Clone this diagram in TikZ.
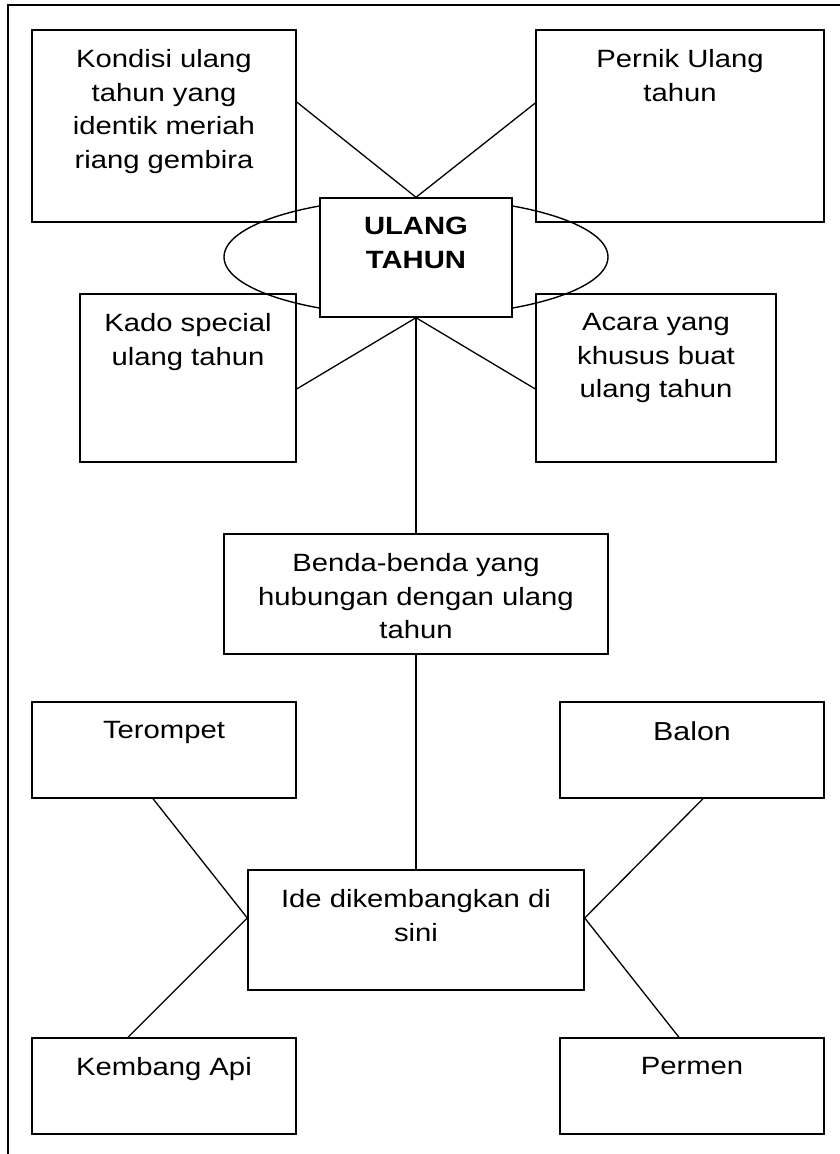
\documentclass[tikz,border=0pt]{standalone}
\usepackage{fontspec}
\setmainfont[FakeStretch=1.17]{Liberation Sans}
\usepackage{tikz}
\usetikzlibrary{shapes,positioning}

\begin{document}
\begin{tikzpicture}[x=1pt, y=-1pt]
  \tikzstyle{kotak} = [draw, rectangle, line width=1.4pt, inner sep=0pt]
  \tikzstyle{teks} = [anchor=north, align=center, inner sep=0pt, yshift=-20pt, font=\fontsize{25pt}{33.5pt}\selectfont]
  \tikzstyle{garis} = [line width=1.3pt]

  \useasboundingbox (0,0) rectangle (840,1154);
  % bingkai
  \draw[garis] (840,5) -- (8,5) -- (8,1154);

  \node[ellipse, draw, line width=1.4pt, minimum width=384pt, minimum height=118pt] (oval) at (416,257) {};

  \node[kotak, minimum width=264pt, minimum height=192pt, label={[teks]north:{Kondisi ulang\\tahun yang\\identik meriah\\riang gembira}}] (kondisi) at (164,126) {};
  \node[kotak, minimum width=288pt, minimum height=192pt, label={[teks]north:{Pernik Ulang\\tahun}}] (pernik) at (680,126) {};
  \node[kotak, fill=white, minimum width=192pt, minimum height=119pt, label={[teks, font=\fontsize{25pt}{33.5pt}\selectfont\bfseries]north:{ULANG\\TAHUN}}] (ulang) at (416,257.5) {};
  \node[kotak, minimum width=216pt, minimum height=168pt, label={[teks]north:{Kado special\\ulang tahun}}] (kado) at (188,378) {};
  \node[kotak, minimum width=240pt, minimum height=168pt, label={[teks]north:{Acara yang\\khusus buat\\ulang tahun}}] (acara) at (656,378) {};
  \node[kotak, minimum width=384pt, minimum height=120pt, label={[teks]north:{Benda-benda yang\\hubungan dengan ulang\\tahun}}] (benda) at (416,594) {};

  \node[kotak, minimum width=264pt, minimum height=96pt, label={[teks]north:{Terompet}}] (terompet) at (164,750) {};
  \node[kotak, minimum width=264pt, minimum height=96pt, label={[teks, font=\fontsize{26pt}{33.5pt}\selectfont]north:{Balon}}] (balon) at (692,750) {};
  \node[kotak, minimum width=336pt, minimum height=120pt, label={[teks]north:{Ide dikembangkan di\\sini}}] (ide) at (416,930) {};
  \node[kotak, minimum width=264pt, minimum height=96pt, label={[teks]north:{Kembang Api}}] (kembang) at (164,1086) {};
  \node[kotak, minimum width=264pt, minimum height=96pt, label={[teks]north:{Permen}}] (permen) at (692,1086) {};

  \coordinate (ideW) at ([yshift=12pt]ide.west);
  \coordinate (ideE) at ([yshift=12pt]ide.east);

  \draw[garis] ([yshift=24pt]kondisi.east) -- (ulang.north);
  \draw[garis] ([yshift=23pt]pernik.west) -- (ulang.north);
  \draw[garis] ([yshift=-11pt]kado.east) -- (ulang.south);
  \draw[garis] ([yshift=-11pt]acara.west) -- (ulang.south);
  \draw[garis] (ulang.south) -- (benda.north);
  \draw[garis] (benda.south) -- (ide.north);

  \draw[garis] ([xshift=-11pt]terompet.south) -- (ideW);
  \draw[garis] ([xshift=-36pt]kembang.north) -- (ideW);
  \draw[garis] ([xshift=11pt]balon.south) -- (ideE);
  \draw[garis] ([xshift=-13pt]permen.north) -- (ideE);
\end{tikzpicture}
\end{document}
